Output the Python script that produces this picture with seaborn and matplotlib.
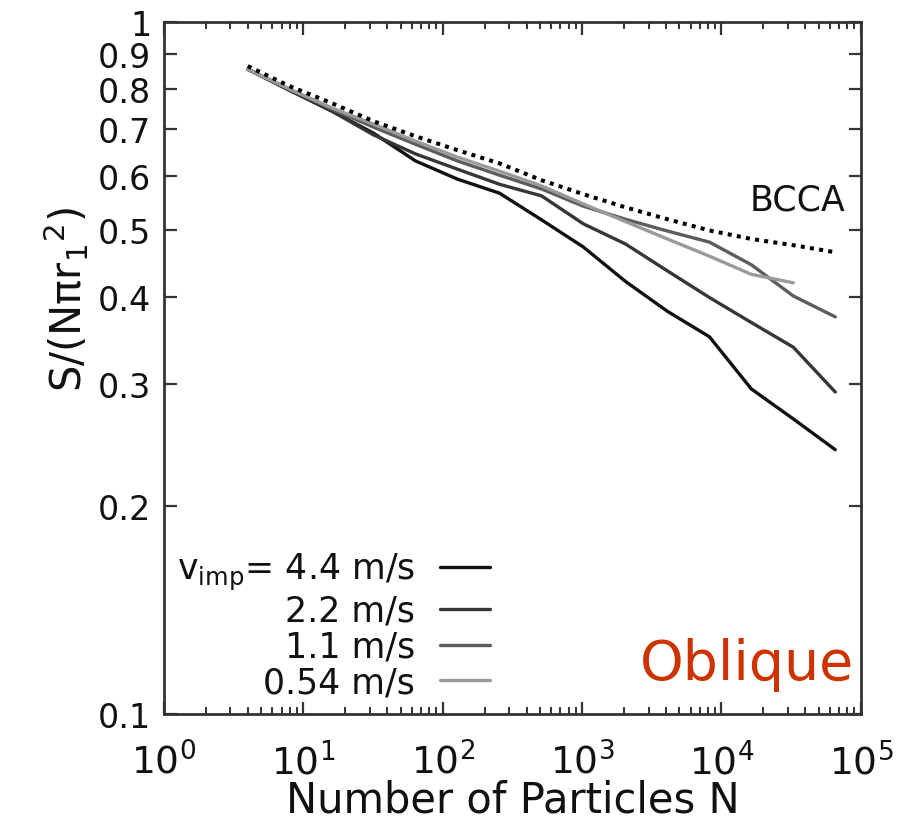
import matplotlib
matplotlib.use("Agg")
import matplotlib.pyplot as plt
import matplotlib.ticker as mticker
import seaborn as sns
import numpy as np

# ---- data ----
N_full = [4, 8, 16, 32, 64, 128, 256, 512, 1024, 2048, 4096, 8192, 16384, 32768, 65536]
N_short = [4, 8, 16, 32, 64, 128, 256, 512, 1024, 2048, 4096, 8192, 16384, 32768]

s_44 = [0.855, 0.797, 0.744, 0.691, 0.630, 0.593, 0.566, 0.518, 0.473, 0.422, 0.382, 0.351, 0.295, 0.267, 0.241]
s_22 = [0.855, 0.797, 0.744, 0.687, 0.645, 0.613, 0.583, 0.561, 0.511, 0.478, 0.437, 0.400, 0.368, 0.339, 0.292]
s_11 = [0.855, 0.800, 0.749, 0.705, 0.666, 0.630, 0.601, 0.574, 0.542, 0.519, 0.499, 0.481, 0.446, 0.402, 0.375]
s_054 = [0.855, 0.800, 0.752, 0.712, 0.673, 0.638, 0.609, 0.580, 0.546, 0.515, 0.486, 0.459, 0.432, 0.420]
s_bcca = [0.864, 0.808, 0.764, 0.719, 0.684, 0.653, 0.625, 0.591, 0.564, 0.540, 0.519, 0.500, 0.486, 0.476, 0.465]

labels = [r"$\mathregular{v_{imp}}$= 4.4 m/s", "2.2 m/s", "1.1 m/s", "0.54 m/s"]
colors = ["#111111", "#363636", "#5c5c5c", "#9a9a9a"]

yticks = [0.1, 0.2, 0.3, 0.4, 0.5, 0.6, 0.7, 0.8, 0.9, 1.0]
ytick_labels = ["0.1", "0.2", "0.3", "0.4", "0.5", "0.6", "0.7", "0.8", "0.9", "1"]
xticks = [1, 10, 100, 1000, 10000, 100000]
xtick_labels = [r"$10^{0}$", r"$10^{1}$", r"$10^{2}$", r"$10^{3}$", r"$10^{4}$", r"$10^{5}$"]

sns.set_theme(style="ticks")
plt.rcParams["font.family"] = ["DejaVu Sans"]
plt.rcParams["mathtext.fontset"] = "dejavusans"
plt.rcParams["text.color"] = "#111111"
plt.rcParams["axes.labelcolor"] = "#111111"
plt.rcParams["xtick.labelcolor"] = "#111111"
plt.rcParams["ytick.labelcolor"] = "#111111"

fig = plt.figure(figsize=(9.10, 8.28), dpi=100)
ax = fig.add_axes([0.180, 0.1365, 0.766, 0.8355])

lw = 2.4
series = [(N_full, s_44), (N_full, s_22), (N_full, s_11), (N_short, s_054)]
for (xs, ys), lab, c in zip(series, labels, colors):
    sns.lineplot(x=xs, y=ys, ax=ax, color=c, lw=lw, label=lab, sort=True)
sns.lineplot(x=N_full, y=s_bcca, ax=ax, color="black", lw=2.9, label="_bcca")
ax.lines[-1].set_linestyle((0, (1, 1.3)))

ax.set_xscale("log")
ax.set_yscale("log")
ax.set_xlim(1, 1e5)
ax.set_ylim(0.1, 1.0)

ax.set_yticks(yticks)
ax.set_yticklabels(ytick_labels)
ax.yaxis.set_minor_locator(mticker.NullLocator())
ax.set_xticks(xticks)
ax.set_xticklabels(xtick_labels)
ax.xaxis.set_minor_locator(mticker.LogLocator(base=10, subs=np.arange(2, 10), numticks=20))
ax.xaxis.set_minor_formatter(mticker.NullFormatter())

ax.tick_params(which="both", direction="in", top=True, right=True, color="#333333")
ax.tick_params(axis="y", which="major", length=9, width=1.6, labelsize=24, pad=9)
ax.tick_params(axis="x", which="major", length=9, width=1.6, labelsize=27, pad=20)
ax.tick_params(axis="x", which="minor", length=5, width=1.4)
for sp in ax.spines.values():
    sp.set_linewidth(2.0)
    sp.set_color("#333333")

ax.set_xlabel("Number of Particles N", fontsize=30, labelpad=-2)
ax.set_ylabel("S/(Nπr$_1$$^2$)", fontsize=30)
ax.yaxis.set_label_coords(-0.104, 0.60)

ax.text(0.978, 0.744, "BCCA", transform=ax.transAxes, fontsize=25,
        ha="right", va="center", color="#111111")
ax.text(0.99, 0.05, "Oblique", transform=ax.transAxes, fontsize=40,
        ha="right", va="baseline", color="#cc3300")

handles, labs = ax.get_legend_handles_labels()
leg = ax.legend(handles[:4], labs[:4], loc="lower right", bbox_to_anchor=(0.468, 0.021),
                frameon=False, markerfirst=False, fontsize=25, handlelength=1.45,
                handletextpad=0.7, labelspacing=0.05, borderpad=0, borderaxespad=0)
for t in leg.get_texts():
    t.set_color("#111111")

fig.savefig("out.png", dpi=100)
